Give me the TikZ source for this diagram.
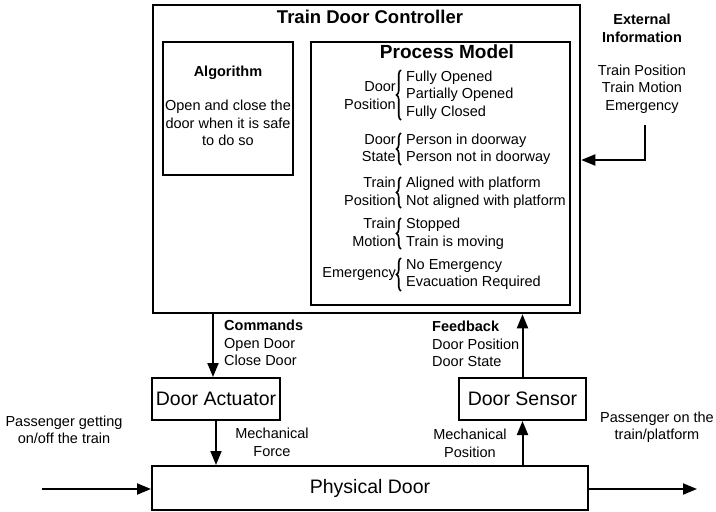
\documentclass[tikz,border=0pt]{standalone}
\usepackage{fontspec}
\setmainfont{Liberation Sans}
\usetikzlibrary{arrows.meta,decorations.pathreplacing}
\begin{document}
\begin{tikzpicture}[x=1pt,y=-1pt,
 box/.style={draw, line width=2pt, rectangle, inner sep=0pt},
 arr/.style={line width=2pt, -{Triangle[length=14pt,width=11pt]}},
 txt/.style={font=\fontsize{14.5}{17.5}\selectfont, inner sep=0pt, align=center},
 lbl/.style={txt, align=right, anchor=east},
 itm/.style={txt, align=left, anchor=west},
 big/.style={font=\fontsize{19.5}{22}\selectfont, inner sep=0pt},
 ttl/.style={font=\fontsize{19}{22}\selectfont\bfseries, inner sep=0pt},
 brc/.style={line width=1.6pt, decorate, decoration={brace, amplitude=4.5pt}}]
\useasboundingbox (0,0) rectangle (716,512);
% boxes
\node[box, line width=2.5pt, minimum width=427, minimum height=308] (tdc) at (366.5,159) {};
\node[ttl, font=\fontsize{18.5}{22}\selectfont\bfseries] (tdct) at (370,17) {Train Door Controller};
\node[box, minimum width=130, minimum height=133] (alg) at (228,108.5) {};
\node[txt, font=\fontsize{14.5}{17.5}\selectfont\bfseries] (algt) at (228,73) {Algorithm};
\node[txt] (algd) at (228,123) {Open and close the\\door when it is safe\\to do so};
\node[box, minimum width=259, minimum height=263] (pm) at (440.5,173.5) {};
\node[ttl] (pmt) at (447,52) {Process Model};
% process model rows
\node[lbl] (l1) at (396,95.5) {Door\\Position};
\draw[brc] (401,120) -- (401,70);
\node[itm] (i1) at (406,95) {Fully Opened\\Partially Opened\\Fully Closed};
\node[lbl] (l2) at (396,148) {Door\\State};
\draw[brc] (401,165) -- (401,133);
\node[itm] (i2) at (406,149) {Person in doorway\\Person not in doorway};
\node[lbl] (l3) at (396,191.5) {Train\\Position};
\draw[brc] (401,208) -- (401,177);
\node[itm] (i3) at (406,192.5) {Aligned with platform\\Not aligned with platform};
\node[lbl] (l4) at (396,232.5) {Train\\Motion};
\draw[brc] (401,249) -- (401,218);
\node[itm] (i4) at (406,233.5) {Stopped\\Train is moving};
\node[lbl] (l5) at (396,274) {Emergency};
\draw[brc] (401,291) -- (401,258);
\node[itm] (i5) at (406,274.5) {No Emergency\\Evacuation Required};
% lower boxes
\node[box, minimum width=128, minimum height=42, big] (act) at (216,399) {Door Actuator};
\node[box, minimum width=127, minimum height=42, big] (sen) at (522.5,399) {Door Sensor};
\node[box, minimum width=436, minimum height=44, big] (door) at (370,488) {Physical Door};
% external info
\node[txt, font=\fontsize{14.5}{17.5}\selectfont\bfseries] (exth) at (642,28.5) {External\\Information};
\node[txt] (extl) at (642,89) {Train Position\\Train Motion\\Emergency};
\coordinate (ext) at (645,125);
\coordinate (extc) at (645,160);
\draw[arr] (ext) -- (extc) -- (extc -| tdc.east);
% commands / feedback
\draw[arr] ([xshift=-3]act.north |- tdc.south) -- ([xshift=-3]act.north);
\node[itm] (cmd) at (224,343) {\textbf{Commands}\\Open Door\\Close Door};
\draw[arr] (sen.north) -- (sen.north |- tdc.south);
\node[itm] (fb) at (432,344) {\textbf{Feedback}\\Door Position\\Door State};
% mechanical
\draw[arr] (act.south) -- (act.south |- door.north);
\node[txt] (mf) at (272,442.5) {Mechanical\\Force};
\draw[arr] (sen.south |- door.north) -- (sen.south);
\node[txt] (mp) at (470,443.5) {Mechanical\\Position};
% passengers
\coordinate (lin) at (42,489);
\coordinate (rout) at (697,489);
\draw[arr] (lin) -- (lin -| door.west);
\draw[arr] (door.east |- rout) -- (rout);
\node[txt] (pl) at (64,430) {Passenger getting\\on/off the train};
\node[txt] (pr) at (657,427) {Passenger on the\\train/platform};
\end{tikzpicture}
\end{document}
